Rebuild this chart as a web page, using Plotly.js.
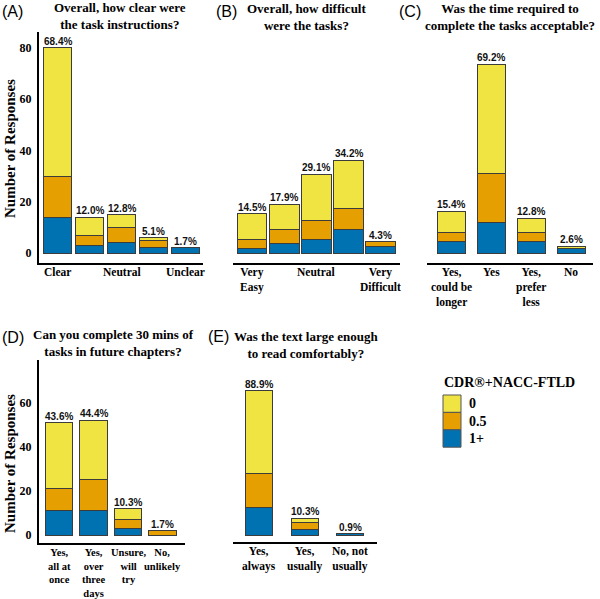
<!DOCTYPE html>
<html>
<head>
<meta charset="utf-8">
<script src="https://cdn.plot.ly/plotly-3.0.1.min.js"></script>
<style>
  html, body { margin: 0; padding: 0; background: #fff; }
  #chart { width: 600px; height: 599px; }
</style>
</head>
<body>
<div id="chart"></div>
<script>
// CDR+NACC-FTLD groups, bottom of the stack first
var groupNames = ['1+', '0.5', '0'];
var groupColors = ['#0072B2', '#E69F00', '#F0E442'];

// (A) how clear were the task instructions
var labelsA = ['Clear', '', 'Neutral', '', 'Unclear'];
var oneA = [14, 3, 4, 2, 2];
var halfA = [16, 4, 6, 3, 0];
var zeroA = [50, 7, 5, 1, 0];
var pctA = ['68.4%', '12.0%', '12.8%', '5.1%', '1.7%'];

// (B) how difficult were the tasks
var labelsB = ['Very<br>Easy', '', 'Neutral', '', 'Very<br>Difficult'];
var oneB = [2, 4, 6, 10, 3];
var halfB = [4, 6, 8, 9, 2];
var zeroB = [11, 11, 20, 21, 0];
var pctB = ['14.5%', '17.9%', '29.1%', '34.2%', '4.3%'];

// (C) time required acceptable
var labelsC = ['Yes,<br>could be<br>longer', 'Yes', 'Yes,<br>prefer<br>less', 'No'];
var oneC = [5, 13, 5, 2];
var halfC = [4, 21, 4, 0];
var zeroC = [9, 47, 6, 1];
var pctC = ['15.4%', '69.2%', '12.8%', '2.6%'];

// (D) 30 mins of tasks in future chapters
var labelsD = ['Yes,<br>all at<br>once', 'Yes,<br>over<br>three<br>days', 'Unsure,<br>will<br>try', 'No,<br>unlikely'];
var oneD = [11, 11, 3, 0];
var halfD = [10, 14, 4, 2];
var zeroD = [30, 27, 5, 0];
var pctD = ['43.6%', '44.4%', '10.3%', '1.7%'];

// (E) text large enough
var labelsE = ['Yes,<br>always', 'Yes,<br>usually', 'No, not<br>usually'];
var oneE = [20, 4, 1];
var halfE = [24, 5, 0];
var zeroE = [60, 3, 0];
var pctE = ['88.9%', '10.3%', '0.9%'];

var W = 600, H = 599;
function fx(px) { return px / W; }
function fy(py) { return 1 - py / H; }

var serif = 'Liberation Serif, Times New Roman, serif';
var sans = 'Liberation Sans, Arial, sans-serif';

// box = [left, right, top, bottom] in pixels
var panels = [
    {tag: '(A)', title: 'Overall, how clear were<br>the task instructions?', labels: labelsA,
     series: [oneA, halfA, zeroA], pct: pctA, box: [39, 203, 32, 263],
     xr: [-0.578, 4.547], yr: [-3.9, 86.2], w: 0.9, showY: true,
     titleXY: [120, 16], tagXY: [12, 11], tickTop: 265, tickSize: 11.5, yTitleY: 149},
    {tag: '(B)', title: 'Overall, how difficult<br>were the tasks?', labels: labelsB,
     series: [oneB, halfB, zeroB], pct: pctB, box: [233, 400, 32, 263],
     xr: [-0.59, 4.6], yr: [-4.2, 95], w: 0.93, showY: false,
     titleXY: [306, 16.5], tagXY: [226, 11], tickTop: 265, tickSize: 11.5},
    {tag: '(C)', title: 'Was the time required to<br>complete the tasks acceptable?', labels: labelsC,
     series: [oneC, halfC, zeroC], pct: pctC, box: [427, 593, 32, 263],
     xr: [-0.6, 3.55], yr: [-4.2, 94.7], w: 0.7, showY: false,
     titleXY: [510, 17], tagXY: [410, 11], tickTop: 265, tickSize: 11.5},
    {tag: '(D)', title: 'Can you complete 30 mins of<br>tasks in future chapters?', labels: labelsD,
     series: [oneD, halfD, zeroD], pct: pctD, box: [39, 185, 360, 543],
     xr: [-0.58, 3.65], yr: [-3.6, 79.4], w: 0.8, showY: true,
     titleXY: [113, 343], tagXY: [12.5, 337], tickTop: 546, tickSize: 10.5, yTitleY: 464},
    {tag: '(E)', title: 'Was the text large enough<br>to read comfortably?', labels: labelsE,
     series: [oneE, halfE, zeroE], pct: pctE, box: [233, 377, 360, 542],
     xr: [-0.58, 2.585], yr: [-5.04, 126.1], w: 0.59, showY: false,
     titleXY: [306, 344.5], tagXY: [218, 336], tickTop: 544, tickSize: 11.5}
];

var data = [];
var annotations = [];
var shapes = [];
var layout = {
    width: W,
    height: H,
    margin: {l: 0, r: 0, t: 0, b: 0},
    paper_bgcolor: '#fff',
    plot_bgcolor: 'rgba(0,0,0,0)',
    barmode: 'stack',
    showlegend: false,
    font: {family: serif, color: '#000'}
};

panels.forEach(function (p, k) {
    var suf = k === 0 ? '' : String(k + 1);
    var xa = 'x' + suf, ya = 'y' + suf;
    var idx = p.labels.map(function (_, i) { return i; });

    p.series.forEach(function (vals, s) {
        data.push({
            type: 'bar',
            x: idx,
            y: vals,
            xaxis: xa,
            yaxis: ya,
            width: p.w,
            name: groupNames[s],
            marker: {color: groupColors[s], line: {color: '#3c3c3c', width: 1}},
            hoverinfo: 'skip'
        });
    });

    layout['xaxis' + suf] = {
        domain: [fx(p.box[0]), fx(p.box[1])],
        range: p.xr,
        anchor: ya,
        showline: true, linecolor: '#000', linewidth: 2,
        showgrid: false, zeroline: false, showticklabels: false, ticks: '',
        fixedrange: true
    };
    layout['yaxis' + suf] = {
        domain: [fy(p.box[3]), fy(p.box[2])],
        range: p.yr,
        anchor: xa,
        visible: p.showY,
        showline: true, linecolor: '#000', linewidth: 2,
        showgrid: false, zeroline: false, ticks: '',
        tick0: 0, dtick: 20,
        ticklabelstandoff: 3,
        tickfont: {family: serif, size: 12, weight: 'bold', color: '#000'},
        fixedrange: true
    };

    // category labels under the bars (only some bars are named)
    p.labels.forEach(function (lab, i) {
        if (!lab) return;
        annotations.push({
            xref: xa, yref: 'paper', x: i, y: fy(p.tickTop),
            text: lab, showarrow: false, xanchor: 'center', yanchor: 'top',
            align: 'center', borderpad: 0,
            font: {family: serif, size: p.tickSize, weight: 'bold', color: '#000'}
        });
    });

    // percentage labels on top of each stack
    p.pct.forEach(function (txt, i) {
        var total = p.series[0][i] + p.series[1][i] + p.series[2][i];
        annotations.push({
            xref: xa, yref: ya, x: i, y: total,
            text: txt, showarrow: false, xanchor: 'center', yanchor: 'bottom',
            yshift: -1,
            font: {family: sans, size: 10, weight: 'bold', color: '#111'}
        });
    });

    annotations.push({
        xref: 'paper', yref: 'paper', x: fx(p.titleXY[0]), y: fy(p.titleXY[1]),
        text: p.title, showarrow: false, xanchor: 'center', yanchor: 'middle',
        font: {family: serif, size: 13, weight: 'bold', color: '#000'}
    });
    annotations.push({
        xref: 'paper', yref: 'paper', x: fx(p.tagXY[0]), y: fy(p.tagXY[1]),
        text: p.tag, showarrow: false, xanchor: 'center', yanchor: 'middle',
        font: {family: sans, size: 16, color: '#000'}
    });
    if (p.yTitleY) {
        annotations.push({
            xref: 'paper', yref: 'paper', x: fx(10), y: fy(p.yTitleY),
            text: 'Number of Responses', showarrow: false, textangle: -90,
            xanchor: 'center', yanchor: 'middle',
            font: {family: serif, size: 15, weight: 'bold', color: '#000'}
        });
    }
});

// legend drawn by hand so the swatches are big and touching
annotations.push({
    xref: 'paper', yref: 'paper', x: fx(442), y: fy(382),
    text: 'CDR®+NACC-FTLD', showarrow: false, xanchor: 'left', yanchor: 'middle',
    font: {family: serif, size: 14, weight: 'bold', color: '#000'}
});
var swatch = 17.4;
for (var r = 0; r < groupNames.length; r++) {
    var g = groupNames.length - 1 - r;
    var rowTop = 395 + r * swatch;
    shapes.push({
        type: 'rect', xref: 'paper', yref: 'paper',
        x0: fx(443), x1: fx(461), y0: fy(rowTop + swatch), y1: fy(rowTop),
        fillcolor: groupColors[g], line: {color: '#555', width: 1}
    });
    annotations.push({
        xref: 'paper', yref: 'paper', x: fx(467), y: fy(rowTop + swatch / 2),
        text: groupNames[g], showarrow: false, xanchor: 'left', yanchor: 'middle',
        font: {family: serif, size: 14, weight: 'bold', color: '#000'}
    });
}

layout.annotations = annotations;
layout.shapes = shapes;

Plotly.newPlot('chart', data, layout, {displayModeBar: false, staticPlot: true});
</script>
</body>
</html>
